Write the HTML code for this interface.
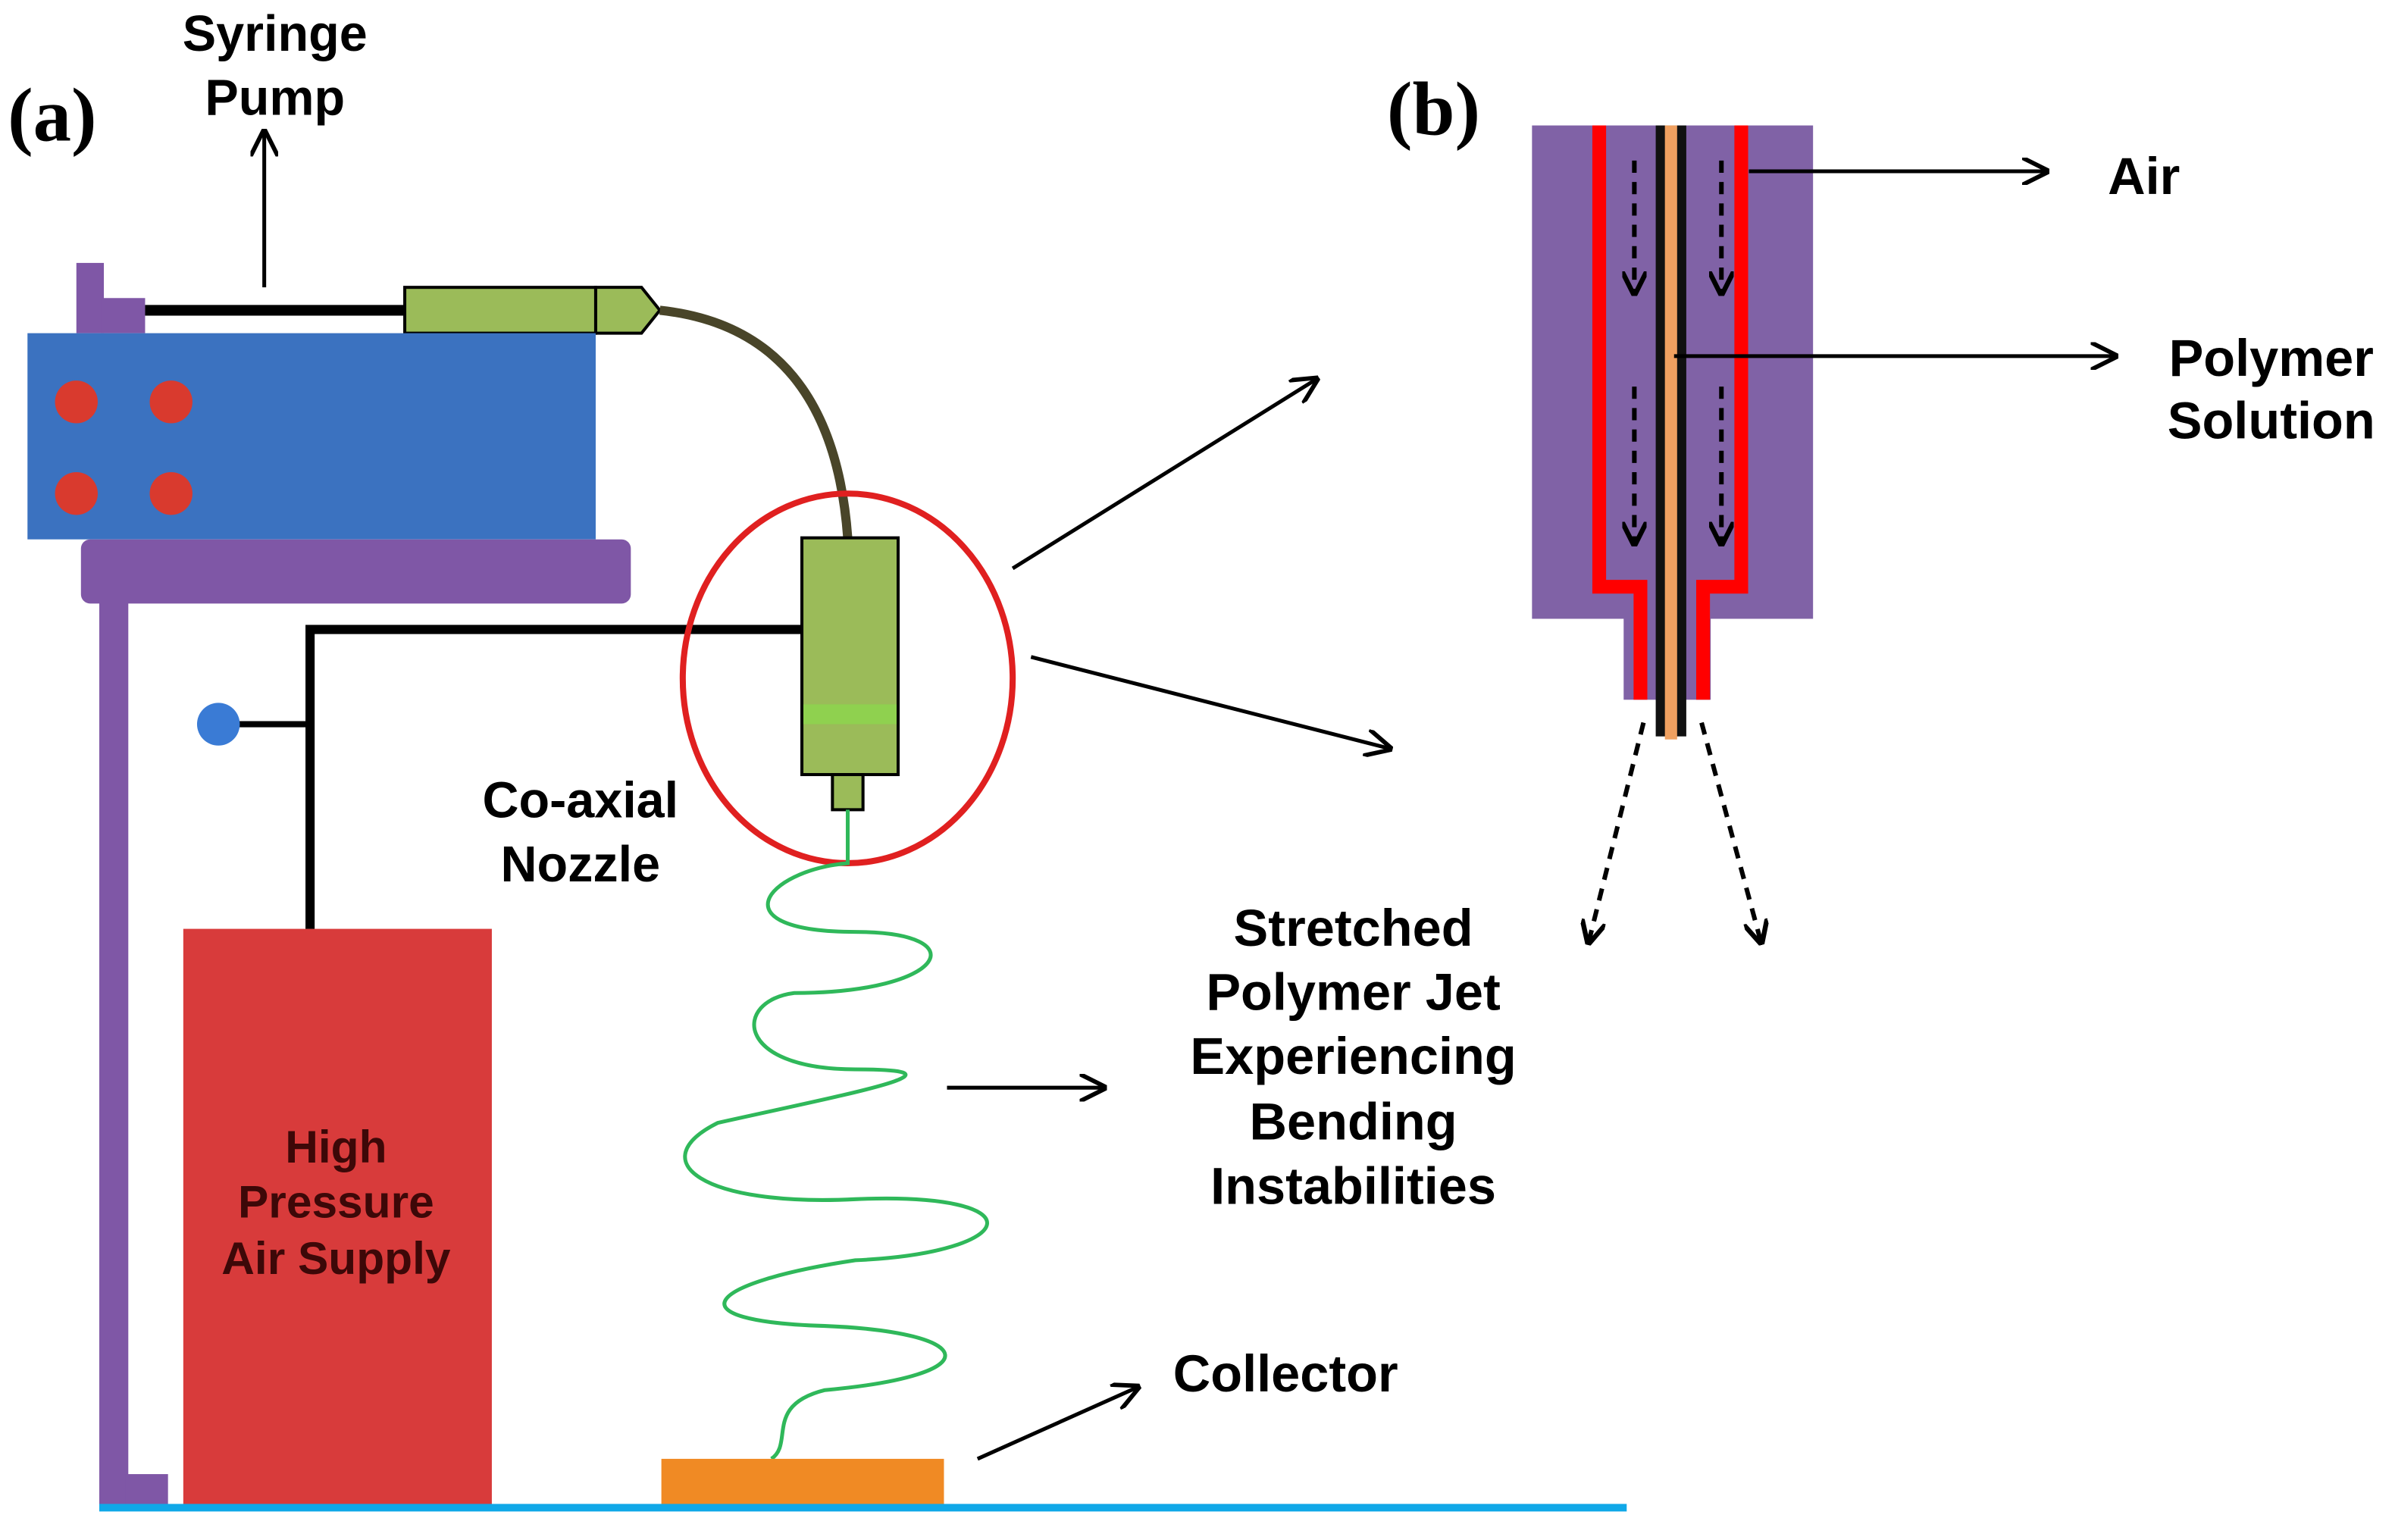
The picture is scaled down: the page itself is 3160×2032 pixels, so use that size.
<!DOCTYPE html>
<html><head><meta charset="utf-8"><style>
html,body{margin:0;padding:0;background:#fff;}
svg{display:block;}
</style></head><body>
<svg width="3160" height="2032" viewBox="0 0 1568 1008" xmlns="http://www.w3.org/2000/svg">
<defs>
<marker id="ah2" viewBox="0 0 10 10" refX="9" refY="5" markerWidth="18" markerHeight="18" markerUnits="userSpaceOnUse" orient="auto"><path d="M0,0 L10,5 L0,10" fill="none" stroke="#000" stroke-width="1.6"/></marker>
<marker id="ah3" viewBox="0 0 10 10" refX="9" refY="5" markerWidth="16" markerHeight="16" markerUnits="userSpaceOnUse" orient="auto"><path d="M0,0 L10,5 L0,10" fill="none" stroke="#000" stroke-width="2"/></marker>
</defs>
<rect width="1568" height="1008" fill="#fff"/>
<rect x="120" y="608" width="202" height="380" fill="#d83b3b"/>
<g font-family="'Liberation Serif', serif" font-weight="bold">
<text x="5" y="92" font-size="50">(a)</text>
<text x="908" y="88" font-size="50">(b)</text>
</g>
<g font-family="'Liberation Sans', Arial, sans-serif" font-weight="bold">
<text x="180" y="33" font-size="33" text-anchor="middle">Syringe</text>
<text x="180" y="75" font-size="33" text-anchor="middle">Pump</text>
<text x="380" y="535" font-size="33" text-anchor="middle">Co-axial</text>
<text x="380" y="577" font-size="33" text-anchor="middle">Nozzle</text>
<text x="220" y="761" font-size="30" text-anchor="middle" fill="#3d0808">High</text>
<text x="220" y="797" font-size="30" text-anchor="middle" fill="#3d0808">Pressure</text>
<text x="220" y="834" font-size="30" text-anchor="middle" fill="#3d0808">Air Supply</text>
<text x="768" y="911" font-size="34">Collector</text>
<g font-size="34" text-anchor="middle">
<text x="886" y="619">Stretched</text>
<text x="886" y="661">Polymer Jet</text>
<text x="886" y="703">Experiencing</text>
<text x="886" y="746">Bending</text>
<text x="886" y="788">Instabilities</text>
</g>
<text x="1380" y="127" font-size="34">Air</text>
<text x="1487" y="246" font-size="34" text-anchor="middle">Polymer</text>
<text x="1487" y="287" font-size="34" text-anchor="middle">Solution</text>
</g>
<line x1="173" y1="188" x2="173" y2="86" stroke="#000" stroke-width="2.5" marker-end="url(#ah2)"/>
<rect x="50" y="172" width="18" height="46" fill="#7f57a6"/>
<rect x="66" y="195" width="29" height="23" fill="#7f57a6"/>
<line x1="95" y1="203" x2="265" y2="203" stroke="#000" stroke-width="7"/>
<rect x="265" y="188" width="125" height="30" fill="#9bbb59" stroke="#000" stroke-width="2"/>
<path d="M390,188 L420,188 L432,203 L420,218 L390,218 Z" fill="#9bbb59" stroke="#000" stroke-width="2"/>
<path d="M432,203 Q545,215 555,352" fill="none" stroke="#494529" stroke-width="6"/>
<rect x="18" y="218" width="372" height="135" fill="#3b72c0"/>
<circle cx="50" cy="263" r="14" fill="#d93a2e"/><circle cx="112" cy="263" r="14" fill="#d93a2e"/>
<circle cx="50" cy="323" r="14" fill="#d93a2e"/><circle cx="112" cy="323" r="14" fill="#d93a2e"/>
<rect x="53" y="353" width="360" height="42" rx="6" fill="#7f57a6"/>
<rect x="65" y="393" width="19" height="594" fill="#7f57a6"/>
<rect x="82" y="965" width="28" height="20" fill="#7f57a6"/>
<path d="M525,412 L203,412 L203,608" fill="none" stroke="#000" stroke-width="6"/>
<line x1="150" y1="474" x2="203" y2="474" stroke="#000" stroke-width="4"/>
<circle cx="143" cy="474" r="14" fill="#3a7bd5"/>
<rect x="525" y="352" width="63" height="155" fill="#9bbb59" stroke="#000" stroke-width="2"/>
<rect x="526" y="461" width="61" height="13" fill="#8fd14f"/>
<rect x="545" y="507" width="20" height="23" fill="#9bbb59" stroke="#000" stroke-width="2"/>
<ellipse cx="555" cy="444" rx="108" ry="121" fill="none" stroke="#e02020" stroke-width="4"/>
<path d="M555,530 L555,565 C500,570 470,610 560,610 C640,610 620,650 520,650 C480,655 480,700 560,700 C640,700 560,715 470,735 C420,760 460,790 560,785 C680,780 670,820 560,825 C460,840 440,865 540,868 C640,872 650,900 540,910 C500,920 520,945 505,955" fill="none" stroke="#2fb85a" stroke-width="2.5"/>
<rect x="433" y="955" width="185" height="30" fill="#f08a24"/>
<line x1="65" y1="987" x2="1065" y2="987" stroke="#10a8e8" stroke-width="5"/>
<line x1="663" y1="372" x2="862" y2="248" stroke="#000" stroke-width="2.5" marker-end="url(#ah2)"/>
<line x1="675" y1="430" x2="910" y2="490" stroke="#000" stroke-width="2.5" marker-end="url(#ah2)"/>
<line x1="620" y1="712" x2="723" y2="712" stroke="#000" stroke-width="2.5" marker-end="url(#ah2)"/>
<line x1="640" y1="955" x2="745" y2="908" stroke="#000" stroke-width="2.5" marker-end="url(#ah2)"/>
<rect x="1003" y="82" width="184" height="323" fill="#8062a6"/>
<rect x="1063" y="400" width="57" height="58" fill="#8062a6"/>
<path d="M1047,82 L1047,384 L1074,384 L1074,458" fill="none" stroke="#ff0000" stroke-width="9"/>
<path d="M1140,82 L1140,384 L1115,384 L1115,458" fill="none" stroke="#ff0000" stroke-width="9"/>
<rect x="1084" y="82" width="20" height="400" fill="#111"/>
<rect x="1090" y="82" width="8" height="402" fill="#f0a060"/>
<g stroke="#000" stroke-width="3" stroke-dasharray="8,6" fill="none">
<line x1="1070" y1="105" x2="1070" y2="192" marker-end="url(#ah3)"/>
<line x1="1127" y1="105" x2="1127" y2="192" marker-end="url(#ah3)"/>
<line x1="1070" y1="253" x2="1070" y2="356" marker-end="url(#ah3)"/>
<line x1="1127" y1="253" x2="1127" y2="356" marker-end="url(#ah3)"/>
<line x1="1076" y1="473" x2="1040" y2="617" marker-end="url(#ah3)"/>
<line x1="1114" y1="473" x2="1153" y2="617" marker-end="url(#ah3)"/>
</g>
<line x1="1145" y1="112" x2="1340" y2="112" stroke="#000" stroke-width="2.5" marker-end="url(#ah2)"/>
<line x1="1096" y1="233" x2="1385" y2="233" stroke="#000" stroke-width="2.5" marker-end="url(#ah2)"/>
</svg>
</body></html>
